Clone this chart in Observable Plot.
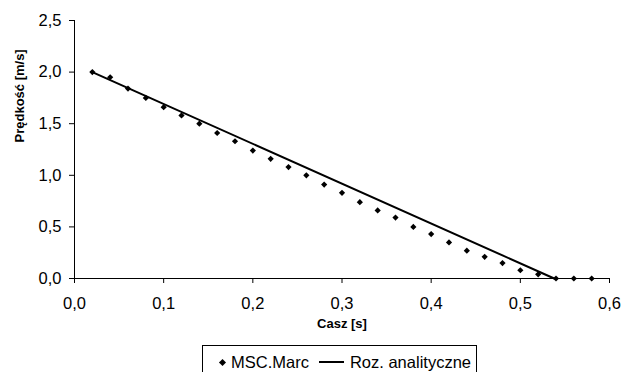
<!DOCTYPE html>
<html>
<head>
<meta charset="utf-8">
<script src="https://cdn.jsdelivr.net/npm/d3@7"></script>
<script src="https://cdn.jsdelivr.net/npm/@observablehq/plot@0.6"></script>
<style>
  body { margin: 0; background: #fff; }
  #legend {
    box-sizing: border-box;
    margin-left: 202px; margin-top: 3px;
    width: 275px; height: 30px;
    border: 1px solid #000;
    font-family: "Liberation Sans", Arial, sans-serif;
    font-size: 16.5px; line-height: 19px; color: #000;
    display: flex; align-items: center;
    padding: 4px 0 0 17px; white-space: nowrap;
  }
  #legend .dia { display:inline-block; width:5px; height:5px; background:#000; transform: rotate(45deg); margin-right: 6px; }
  #legend .ln { display:inline-block; width:25px; height:2px; background:#000; margin: 0 6px 0 10px; }
</style>
</head>
<body>
<div id="chart"></div>
<script>
// Data
const timeMSC = [0.02,0.04,0.06,0.08,0.10,0.12,0.14,0.16,0.18,0.20,0.22,0.24,0.26,0.28,0.30,0.32,0.34,0.36,0.38,0.40,0.42,0.44,0.46,0.48,0.50,0.52,0.54,0.56,0.58];
const velMSC  = [2.00,1.95,1.84,1.75,1.66,1.58,1.50,1.41,1.33,1.24,1.16,1.08,1.00,0.91,0.83,0.74,0.66,0.59,0.50,0.43,0.35,0.27,0.21,0.15,0.08,0.04,0.00,0.00,0.00];
const timeAnalytic = [0.02, 0.538];
const velAnalytic  = [2.00, 0.00];
const xTicks = [0, 0.1, 0.2, 0.3, 0.4, 0.5, 0.6];
const yTicks = [0, 0.5, 1.0, 1.5, 2.0, 2.5];
const xTitle = "Casz [s]";
const yTitle = "Prędkość [m/s]";
const seriesNames = ["MSC.Marc", "Roz. analityczne"];

const msc = timeMSC.map((t, i) => ({t, v: velMSC[i]}));
const analytic = timeAnalytic.map((t, i) => ({t, v: velAnalytic[i]}));
const fmt = d => d3.format(".1f")(d).replace(".", ",");

const chart = Plot.plot({
  width: 622, height: 342,
  marginLeft: 74, marginRight: 13, marginTop: 20, marginBottom: 64,
  style: { fontFamily: "'Liberation Sans', Arial, sans-serif", fontSize: "16.5px", color: "#000", background: "#fff" },
  x: { domain: [0, 0.6] },
  y: { domain: [0, 2.5] },
  marks: [
    Plot.axisX({ ticks: xTicks, tickFormat: fmt, tickSize: 5, tickPadding: 14, label: null }),
    Plot.axisY({ ticks: yTicks, tickFormat: fmt, tickSize: 5, tickPadding: 8, label: null }),
    Plot.ruleX([0], { stroke: "#000" }),
    Plot.ruleY([0], { stroke: "#000" }),
    Plot.line(analytic, { x: "t", y: "v", stroke: "#000", strokeWidth: 2 }),
    Plot.dot(msc, { x: "t", y: "v", symbol: "diamond2", r: 2.8, fill: "#000", stroke: "none" }),
    Plot.text([xTitle], { frameAnchor: "bottom", dy: 49, fontWeight: "bold", fontSize: 13, fill: "#000" }),
    Plot.text([yTitle], { frameAnchor: "left", dx: -55, dy: -7, rotate: -90, fontWeight: "bold", fontSize: 13, fill: "#000" })
  ]
});
document.getElementById("chart").appendChild(chart);

const legend = document.createElement("div");
legend.id = "legend";
legend.innerHTML = `<span class="dia"></span><span>${seriesNames[0]}</span><span class="ln"></span><span>${seriesNames[1]}</span>`;
document.body.appendChild(legend);
</script>
</body>
</html>
